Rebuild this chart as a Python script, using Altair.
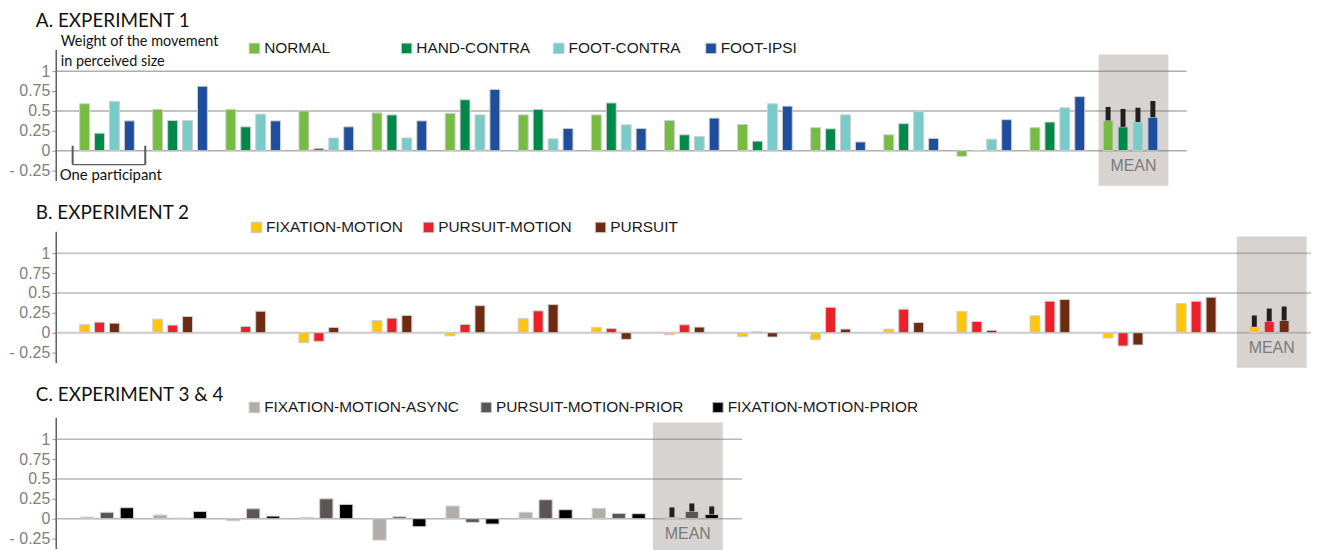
import altair as alt
import pandas as pd

# ---------------- data ----------------
# Panel A: EXPERIMENT 1 (14 participants + mean)
SLOTS_A = [f"P{i}" for i in range(1, 15)] + ["MEAN"]
SERIES_A = ["NORMAL", "HAND-CONTRA", "FOOT-CONTRA", "FOOT-IPSI"]
NORMAL = [0.59, 0.52, 0.52, 0.50, 0.475, 0.47, 0.45, 0.45, 0.38, 0.33, 0.29, 0.20, -0.07, 0.29, 0.38]
HAND_CONTRA = [0.22, 0.38, 0.30, 0.03, 0.45, 0.64, 0.52, 0.60, 0.20, 0.12, 0.275, 0.34, 0.0, 0.36, 0.30]
FOOT_CONTRA = [0.62, 0.38, 0.46, 0.16, 0.16, 0.45, 0.15, 0.325, 0.18, 0.59, 0.45, 0.49, 0.145, 0.54, 0.36]
FOOT_IPSI = [0.375, 0.81, 0.375, 0.30, 0.375, 0.77, 0.28, 0.28, 0.41, 0.56, 0.11, 0.155, 0.39, 0.68, 0.42]
UPPER_A = [0.55, 0.525, 0.54, 0.625]
COLORS_A = ["#76bc43", "#00884a", "#79cbc9", "#1f4e9d"]

# Panel B: EXPERIMENT 2 (16 participants + mean)
SLOTS_B = [f"P{i}" for i in range(1, 17)] + ["MEAN"]
SERIES_B = ["FIXATION-MOTION", "PURSUIT-MOTION", "PURSUIT"]
FIX_MOTION = [0.104, 0.17, 0.005, -0.125, 0.154, -0.04, 0.18, 0.067, -0.025, -0.05, -0.0875, 0.046, 0.267, 0.212, -0.067, 0.367, 0.075]
PURSUIT_MOTION = [0.133, 0.096, 0.079, -0.108, 0.183, 0.104, 0.275, 0.054, 0.10, 0.01, 0.32, 0.296, 0.142, 0.396, -0.167, 0.396, 0.142]
PURSUIT = [0.12, 0.204, 0.27, 0.067, 0.217, 0.34, 0.354, -0.083, 0.071, -0.054, 0.046, 0.129, 0.03, 0.417, -0.154, 0.446, 0.154]
UPPER_B = [0.217, 0.304, 0.329]
COLORS_B = ["#ffc60b", "#ec2028", "#6d2b12"]

# Panel C: EXPERIMENT 3 & 4 (8 participants + mean)
SLOTS_C = [f"P{i}" for i in range(1, 9)] + ["MEAN"]
SERIES_C = ["FIXATION-MOTION-ASYNC", "PURSUIT-MOTION-PRIOR", "FIXATION-MOTION-PRIOR"]
FIX_ASYNC = [0.02, 0.046, -0.025, 0.017, -0.268, 0.159, 0.08, 0.13, 0.02]
PUR_PRIOR = [0.08, 0.008, 0.125, 0.25, 0.025, -0.046, 0.238, 0.067, 0.092]
FIX_PRIOR = [0.138, 0.092, 0.033, 0.18, -0.1, -0.067, 0.113, 0.063, 0.054]
UPPER_C = [0.142, 0.192, 0.155]
COLORS_C = ["#b1adaa", "#5b5556", "#000000"]

GRID_VALUES = [0, 0.5, 1]
Y_TICKS = [-0.25, 0, 0.25, 0.5, 0.75, 1]
Y_DOMAIN = [-0.375, 1.275]
MEAN_BOX = [1.21, -0.44]

PI = 0.18367
PLOT_H = 132


def values_mean(values):
    return [v[-1] for v in values]


def panel(title, slots, series, values, colors, uppers, width, po, align,
          leg_x, leg_y, leg_cols, leg_pad, title_offset, grid_op, grid_w, offset_domain,
          box_dx, extra=None):
    rows = []
    for s, vals in zip(series, values):
        for slot, v in zip(slots, vals):
            rows.append({"slot": slot, "series": s, "value": v})
    df = pd.DataFrame(rows)
    err = pd.DataFrame({"slot": ["MEAN"] * len(series), "series": series,
                        "value": values_mean(values), "upper": uppers})
    box = pd.DataFrame({"slot": ["MEAN"], "value": [MEAN_BOX[0]], "bottom": [MEAN_BOX[1]]})
    grid = pd.DataFrame({"value": GRID_VALUES})
    meantxt = pd.DataFrame({"slot": ["MEAN"], "value": [-0.19], "t": ["MEAN"]})

    xsc = alt.Scale(domain=slots, paddingInner=PI, paddingOuter=po, align=align)
    ysc = alt.Scale(domain=Y_DOMAIN, nice=False, zero=False)
    yax = alt.Axis(values=Y_TICKS, grid=False, title=None,
                   labelExpr="datum.value < 0 ? '- ' + format(-datum.value, '.2~f') : format(datum.value, '.2~f')",
                   labelFont="Liberation Sans", labelFontSize=16, labelColor="#808080",
                   labelPadding=2, tickSize=4, tickColor="#9a9a9a", tickWidth=1,
                   domainColor="#5f5f5f", domainWidth=1.5)
    osc = alt.Scale(domain=offset_domain, paddingInner=1 / 3, paddingOuter=1 / 6)

    X = lambda **kw: alt.X("slot:N", scale=xsc, axis=None, **kw)
    Y = lambda f="value": alt.Y(f"{f}:Q", scale=ysc, axis=yax, title=None)

    lay = []
    lay.append(alt.Chart(box).mark_bar(color="#d6d3d0", width=alt.RelativeBandSize(1.17),
                                       xOffset=box_dx).encode(
        x=X(), y=Y(), y2="bottom:Q"))
    lay.append(alt.Chart(grid).mark_rule(color="#7a7a7a", opacity=grid_op, strokeWidth=grid_w).encode(
        y=Y(), x=alt.value(0), x2=alt.value(width)))
    lay.append(alt.Chart(df).mark_bar(stroke="#cfcfcf", strokeWidth=1).encode(
        x=X(), xOffset=alt.XOffset("series:N", scale=osc),
        y=Y(),
        color=alt.Color("series:N", scale=alt.Scale(domain=series, range=colors),
                        legend=alt.Legend(title=None, orient="none", legendX=leg_x, legendY=leg_y,
                                          direction="horizontal", columns=leg_cols, gridAlign="all",
                                          columnPadding=leg_pad, symbolType="square", symbolSize=110,
                                          labelFont="Liberation Sans", labelFontSize=15.5,
                                          labelColor="#1a1a1a", labelOffset=2, labelLimit=400,
                                          symbolStrokeColor="#c8c8c8", symbolStrokeWidth=1))))
    lay.append(alt.Chart(err).mark_bar(color="#231f20", width=5).encode(
        x=X(), xOffset=alt.XOffset("series:N", scale=osc), y=Y(), y2="upper:Q"))
    lay.append(alt.Chart(meantxt).mark_text(font="Liberation Sans", fontSize=16, color="#7a7a7a",
                                            baseline="middle", dx=box_dx).encode(
        x=X(), y=Y(), text="t:N"))
    if extra:
        lay.extend(extra(X, Y))
    return alt.layer(*lay).properties(
        width=width, height=PLOT_H,
        title=alt.TitleParams(title, anchor="start", frame="group", dx=-20, offset=title_offset,
                              font="Lato", fontSize=19, fontWeight="normal", color="#111111"))


def extra_a(X, Y):
    br = pd.DataFrame({"slot": ["P1"], "value": [0.0625], "bottom": [-0.175]})
    hb = pd.DataFrame({"slot": ["P1"], "value": [-0.168], "bottom": [-0.182]})
    one = pd.DataFrame({"value": [-0.3], "t": ["One participant"]})
    wt = pd.DataFrame({"t": ["Weight of the movement\nin perceived size"]})
    return [
        alt.Chart(br).mark_rule(color="#5a5a5a", strokeWidth=2, xOffset=-4.5).encode(
            x=X(bandPosition=0), y=Y(), y2="bottom:Q"),
        alt.Chart(br).mark_rule(color="#5a5a5a", strokeWidth=2, xOffset=8.5).encode(
            x=X(bandPosition=1), y=Y(), y2="bottom:Q"),
        alt.Chart(hb).mark_bar(color="#5a5a5a", width=alt.RelativeBandSize(1.22), xOffset=2).encode(
            x=X(), y=Y(), y2="bottom:Q"),
        alt.Chart(one).mark_text(align="left", baseline="middle", font="Lato", fontSize=15,
                                 color="#111111").encode(x=alt.value(4), y=Y(), text="t:N"),
        alt.Chart(wt).mark_text(align="left", baseline="top", font="Lato", fontSize=14.5,
                                color="#111111", lineBreak="\n", lineHeight=20).encode(
            x=alt.value(5), y=alt.value(-14), text="t:N"),
    ]


A = panel("A. EXPERIMENT 1", SLOTS_A, SERIES_A, [NORMAL, HAND_CONTRA, FOOT_CONTRA, FOOT_IPSI],
          COLORS_A, UPPER_A, 1137, 0.3265, 0.448, 192, -9, 4, 20, 3, 0.6, 1.5, SERIES_A, 3, extra_a)
B = panel("B. EXPERIMENT 2", SLOTS_B, SERIES_B, [FIX_MOTION, PURSUIT_MOTION, PURSUIT],
          COLORS_B, UPPER_B, 1262, 0.1769, 0.827, 194, -12, 3, 18, -4, 0.4, 2, SERIES_B + ["_"], -5)
C = panel("C. EXPERIMENT 3 & 4", SLOTS_C, SERIES_C, [FIX_ASYNC, PUR_PRIOR, FIX_PRIOR],
          COLORS_C, UPPER_C, 690, 0.2857, 0.512, 192, -18, 3, 19, -6, 0.55, 1.5, SERIES_C, -4)

chart = alt.vconcat(A, B, C, spacing=18).resolve_scale(
    color="independent", x="independent", y="independent", xOffset="independent"
).resolve_legend(color="independent").properties(
    padding={"left": 1, "top": 3, "right": 0, "bottom": 0}
).configure_view(stroke=None)

chart.save("out.html", embed_options={"renderer": "svg", "actions": False})
